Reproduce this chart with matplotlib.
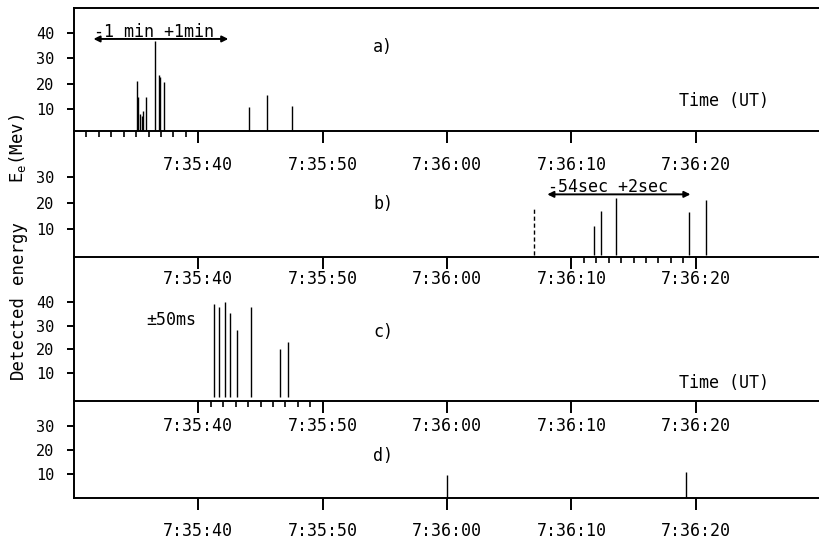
import matplotlib.pyplot as plt
from matplotlib.ticker import FixedLocator

plt.rcParams['font.family'] = ['DejaVu Sans Mono']

# time in seconds after 7:35:00 UT, energy in MeV
t_a = [35.04, 35.18, 35.34, 35.46, 35.58, 35.80, 36.52, 36.81, 36.95, 37.27, 44.10, 45.52, 47.53]
e_a = [21, 14.5, 8, 7, 9, 14.5, 37, 23.4, 22.8, 20.7, 10.8, 15.5, 11.2]

t_b = [71.83, 72.39, 73.57, 79.46, 80.86]
e_b = [11.3, 17, 22, 16.4, 21]
t_b_dashed = [67.0]
e_b_dashed = [17.6]

t_c = [41.29, 41.69, 42.17, 42.57, 43.11, 44.23, 46.59, 47.17]
e_c = [39, 38, 40, 35.5, 28, 38, 20, 23.3]

t_d = [60.0, 79.2]
e_d = [9.5, 11]

tick_secs = [40, 50, 60, 70, 80]
tick_labels = ["7:35:40", "7:35:50", "7:36:00", "7:36:10", "7:36:20"]

fig = plt.figure(figsize=(8.2, 5.41), dpi=100)

# [left, bottom, width, height] for panels a-d
boxes = [
    [0.0902, 0.7579, 0.91, 0.2274],
    [0.0902, 0.5250, 0.91, 0.2329],
    [0.0902, 0.2588, 0.91, 0.2662],
    [0.0902, 0.0795, 0.91, 0.1793],
]
ylims = [(1.2, 50), (-0.8, 47.7), (-1.8, 59), (0, 40.5)]
yticks = [[10, 20, 30, 40], [10, 20, 30], [10, 20, 30, 40], [10, 20, 30]]
minors = [range(31, 40), range(71, 80), range(41, 50), []]
xpads = [9.4, 1, 3, 9]

axes = []
for i in range(4):
    ax = fig.add_axes(boxes[i])
    ax.set_xlim(30, 90)
    ax.set_ylim(*ylims[i])
    ax.spines['right'].set_visible(False)
    ax.spines['top'].set_visible(i == 0)
    for s in ['left', 'bottom', 'top']:
        ax.spines[s].set_linewidth(1.4)
    ax.set_yticks(yticks[i])
    ax.tick_params(axis='y', direction='out', length=5, width=1.4, pad=9, labelsize=11)
    ax.set_xticks(tick_secs)
    ax.set_xticklabels(tick_labels)
    ax.xaxis.set_minor_locator(FixedLocator(list(minors[i])))
    ax.tick_params(axis='x', which='major', direction='out', length=8.6, width=1.4,
                   pad=xpads[i], labelsize=12)
    ax.tick_params(axis='x', which='minor', direction='out', length=4.3, width=1.2)
    ax.patch.set_alpha(0)
    axes.append(ax)

ax_a, ax_b, ax_c, ax_d = axes

ax_a.vlines(t_a, 0, e_a, color='black', linewidth=1.0)
ax_b.vlines(t_b, 0, e_b, color='black', linewidth=1.0)
ax_b.vlines(t_b_dashed, 0, e_b_dashed, color='black', linewidth=1.0, linestyles=(0, (3, 2)))
ax_c.vlines(t_c, 0, e_c, color='black', linewidth=1.0)
ax_d.vlines(t_d, 0, e_d, color='black', linewidth=1.0)

arrow = dict(arrowstyle='<|-|>', color='black', lw=1.4, mutation_scale=9, shrinkA=0, shrinkB=0)
ax_a.annotate('', xy=(31.57, 37.7), xytext=(42.41, 37.7), arrowprops=arrow)
ax_a.text(31.65, 38.6, '-1 min +1min', fontsize=12, ha='left', va='baseline')
ax_b.annotate('', xy=(68.06, 23.3), xytext=(79.57, 23.3), arrowprops=arrow)
ax_b.text(68.11, 24.3, '-54sec +2sec', fontsize=12, ha='left', va='baseline')
ax_c.text(35.82, 32.5, '\u00b150ms', fontsize=12, ha='left', va='center')

ax_a.text(54.86, 34.5, 'a)', fontsize=12, ha='center', va='center')
ax_b.text(54.86, 19.6, 'b)', fontsize=12, ha='center', va='center')
ax_c.text(54.86, 27.4, 'c)', fontsize=12, ha='center', va='center')
ax_d.text(54.86, 17.5, 'd)', fontsize=12, ha='center', va='center')

ax_a.text(82.25, 13.2, 'Time (UT)', fontsize=12, ha='center', va='center')
ax_c.text(82.25, 5.9, 'Time (UT)', fontsize=12, ha='center', va='center')

fig.text(18 / 820, 1 - 337 / 541, 'Detected', rotation=90, fontsize=12.5, ha='center', va='center')
fig.text(18 / 820, 1 - 252 / 541, 'energy', rotation=90, fontsize=12.5, ha='center', va='center')
fig.text(18 / 820, 1 - 148 / 541, r'$\mathregular{E_e}$(Mev)', rotation=90, fontsize=12.5,
         ha='center', va='center')

fig.savefig('out.png', dpi=100)
